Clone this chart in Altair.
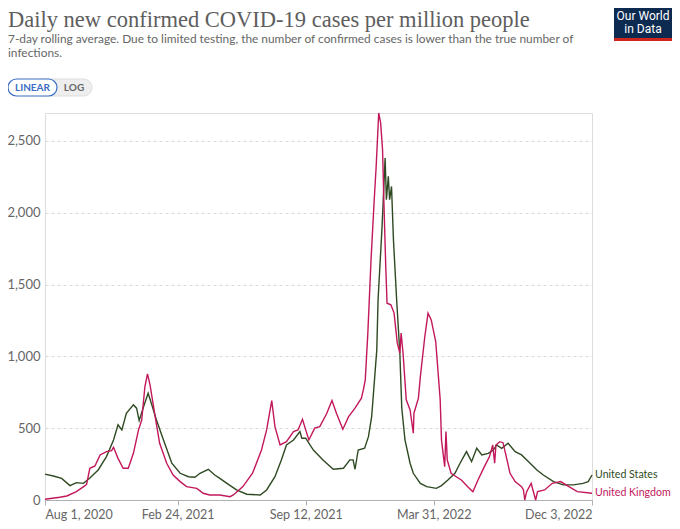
import altair as alt
import pandas as pd

# ---------------- data ----------------
us_dates = [
    "2020-08-01", "2020-08-14", "2020-08-27", "2020-09-09", "2020-09-19", "2020-09-30",
    "2020-10-10", "2020-10-23", "2020-11-05", "2020-11-16", "2020-11-23", "2020-11-29",
    "2020-12-06", "2020-12-17", "2020-12-22", "2020-12-26", "2021-01-02", "2021-01-09",
    "2021-01-14", "2021-01-22", "2021-02-02", "2021-02-15", "2021-02-28", "2021-03-13",
    "2021-03-23", "2021-03-31", "2021-04-13", "2021-04-23", "2021-05-01", "2021-05-12",
    "2021-05-27", "2021-06-12", "2021-07-03", "2021-07-13", "2021-07-26", "2021-08-05",
    "2021-08-13", "2021-08-24", "2021-09-03", "2021-09-06", "2021-09-12", "2021-09-24",
    "2021-10-09", "2021-10-25", "2021-11-10", "2021-11-20", "2021-11-25", "2021-11-28",
    "2021-12-03", "2021-12-13", "2021-12-19", "2021-12-24", "2022-01-01", "2022-01-03",
    "2022-01-09", "2022-01-14", "2022-01-16", "2022-01-19", "2022-01-21", "2022-01-24",
    "2022-01-27", "2022-02-01", "2022-02-06", "2022-02-09", "2022-02-14", "2022-02-22",
    "2022-02-27", "2022-03-10", "2022-03-20", "2022-04-04", "2022-04-12", "2022-04-22",
    "2022-05-03", "2022-05-11", "2022-05-21", "2022-05-29", "2022-06-06", "2022-06-14",
    "2022-06-24", "2022-07-02", "2022-07-07", "2022-07-15", "2022-07-25", "2022-08-05",
    "2022-08-15", "2022-08-26", "2022-09-08", "2022-09-18", "2022-10-04", "2022-10-19",
    "2022-11-04", "2022-11-19", "2022-11-27", "2022-12-03",
]
us_values = [
    180, 167, 150, 100, 121, 116,
    153, 209, 302, 418, 523, 488,
    604, 662, 639, 553, 650, 743,
    674, 557, 418, 256, 186, 162,
    158, 186, 214, 174, 151, 116,
    70, 40, 35, 70, 162, 279,
    383, 418, 476, 430, 430, 348,
    279, 214, 221, 279, 279, 214,
    348, 360, 441, 580, 1045, 1394,
    1882, 2381, 2090, 2253, 2090, 2183,
    1812, 1394, 1022, 640, 418, 256,
    186, 116, 93, 81, 100, 139,
    186, 256, 337, 267, 360, 314,
    325, 348, 383, 360, 395, 337,
    314, 267, 209, 174, 128, 105,
    105, 116, 128, 174,
]

uk_dates = [
    "2020-08-01", "2020-08-24", "2020-09-04", "2020-09-19", "2020-10-02", "2020-10-05",
    "2020-10-10", "2020-10-18", "2020-10-26", "2020-11-05", "2020-11-13", "2020-11-16",
    "2020-11-23", "2020-12-01", "2020-12-09", "2020-12-17", "2020-12-25", "2020-12-30",
    "2021-01-04", "2021-01-08", "2021-01-12", "2021-01-20", "2021-01-27", "2021-02-07",
    "2021-02-17", "2021-02-28", "2021-03-10", "2021-03-26", "2021-04-05", "2021-04-15",
    "2021-05-01", "2021-05-17", "2021-05-22", "2021-06-06", "2021-06-21", "2021-07-05",
    "2021-07-13", "2021-07-21", "2021-07-26", "2021-08-03", "2021-08-13", "2021-08-24",
    "2021-08-31", "2021-09-07", "2021-09-12", "2021-09-17", "2021-09-26", "2021-10-04",
    "2021-10-15", "2021-10-23", "2021-10-30", "2021-11-09", "2021-11-18", "2021-11-28",
    "2021-12-08", "2021-12-11", "2021-12-14", "2021-12-18", "2021-12-23", "2021-12-28",
    "2021-12-31", "2022-01-04", "2022-01-07", "2022-01-10", "2022-01-12", "2022-01-15",
    "2022-01-17", "2022-01-23", "2022-01-28", "2022-02-02", "2022-02-06", "2022-02-08",
    "2022-02-11", "2022-02-16", "2022-02-22", "2022-02-27", "2022-02-28", "2022-03-07",
    "2022-03-10", "2022-03-17", "2022-03-22", "2022-03-27", "2022-04-03", "2022-04-10",
    "2022-04-12", "2022-04-17", "2022-04-19", "2022-04-21", "2022-04-27", "2022-05-05",
    "2022-05-13", "2022-05-23", "2022-05-31", "2022-06-08", "2022-06-18", "2022-06-26",
    "2022-07-01", "2022-07-04", "2022-07-06", "2022-07-12", "2022-07-17", "2022-07-21",
    "2022-07-28", "2022-08-05", "2022-08-15", "2022-08-18", "2022-08-20", "2022-08-23",
    "2022-08-30", "2022-09-06", "2022-09-09", "2022-09-20", "2022-10-02", "2022-10-15",
    "2022-10-28", "2022-11-10", "2022-12-03",
]
uk_values = [
    5, 19, 28, 58, 98, 110,
    221, 237, 314, 337, 344, 367,
    290, 221, 221, 325, 488, 557,
    790, 878, 801, 580, 395, 256,
    174, 128, 93, 81, 47, 35,
    35, 23, 35, 93, 186, 348,
    488, 692, 511, 383, 406, 476,
    488, 562, 488, 418, 500, 511,
    604, 692, 604, 493, 580, 639,
    709, 767, 836, 1160, 1670, 2090,
    2320, 2694, 2625, 2439, 2090, 1626,
    1370, 1359, 1301, 1092, 1022, 1162,
    1022, 697, 627, 465, 604, 709,
    859, 1138, 1301, 1254, 1103, 697,
    418, 232, 476, 279, 186, 162,
    139, 93, 58, 139, 232, 302,
    383, 256, 383, 406, 399, 325,
    186, 128, 93, 70, 0, 58,
    116, 0, 58, 70, 116, 128,
    93, 58, 47,
]

countries = ["United States", "United Kingdom"]
colors = ["#2f4a22", "#c2185b"]
x_ticks = [(2020, 8, 1), (2021, 2, 24), (2021, 9, 12), (2022, 3, 31), (2022, 12, 3)]
y_ticks = [0, 500, 1000, 1500, 2000, 2500]

title = "Daily new confirmed COVID-19 cases per million people"
subtitle = [
    "7-day rolling average. Due to limited testing, the number of confirmed cases is lower than the true number of",
    "infections.",
]

# ---------------- build table ----------------
df = pd.concat([
    pd.DataFrame({"date": us_dates, "value": us_values, "country": countries[0]}),
    pd.DataFrame({"date": uk_dates, "value": uk_values, "country": countries[1]}),
])
last = df.groupby("country", sort=False).tail(1)

W, H = 547, 387
FONT = "Lato"

def dt(t):
    return alt.DateTime(year=t[0], month=t[1], date=t[2], utc=True)

xscale = alt.Scale(type="utc", domain=[dt(x_ticks[0]), dt(x_ticks[-1])])
yscale = alt.Scale(domain=[0, 2694], nice=False)
cscale = alt.Scale(domain=countries, range=colors)

base = alt.Chart(df)

lines = base.mark_line(strokeWidth=1.4, clip=False).encode(
    x=alt.X("date:T", scale=xscale, title=None,
            axis=alt.Axis(values=[dt(t) for t in x_ticks],
                          labelExpr="utcFormat(datum.value, '%b %-d, %Y')",
                          labelFlush=True, grid=False, domainColor="#b0b0b0",
                          tickColor="#b0b0b0", tickSize=5, labelColor="#666666",
                          labelFontSize=12.5, labelFont=FONT, labelPadding=3)),
    y=alt.Y("value:Q", scale=yscale, title=None,
            axis=alt.Axis(values=y_ticks, format=",d", domain=False, ticks=False,
                          gridDash=[3, 3], gridColor="#d9d9d9", labelColor="#666666",
                          labelFontSize=13, labelFont=FONT, labelPadding=5)),
    color=alt.Color("country:N", scale=cscale, legend=None),
    detail="country:N",
)

labels = alt.Chart(last).mark_text(align="left", dx=3, fontSize=10.6, font=FONT,
                                   fontWeight="normal", baseline="middle").encode(
    x=alt.X("date:T", scale=xscale),
    y=alt.Y("value:Q", scale=yscale),
    text="country:N",
    color=alt.Color("country:N", scale=cscale, legend=None),
)

# ---------------- header decorations ----------------
one = pd.DataFrame({"k": [0]})
hdr = alt.Chart(one)

title_t = hdr.mark_text(text=title, align="left", baseline="top", font="Liberation Serif",
                        fontSize=22.5, color="#5e5e5e").encode(x=alt.value(-37), y=alt.value(-104))
sub1 = hdr.mark_text(text=subtitle[0], align="left", baseline="alphabetic", font=FONT,
                     fontSize=11.9, color="#666666").encode(x=alt.value(-37), y=alt.value(-70))
sub2 = hdr.mark_text(text=subtitle[1], align="left", baseline="alphabetic", font=FONT,
                     fontSize=11.9, color="#666666").encode(x=alt.value(-37), y=alt.value(-56))

btn_log = hdr.mark_rect(cornerRadius=9, fill="#eeeeee", stroke="#dddddd").encode(
    x=alt.value(-10), x2=alt.value(47), y=alt.value(-34), y2=alt.value(-17))
btn_lin = hdr.mark_rect(cornerRadius=9, fill="#ffffff", stroke="#3a6cc4", strokeWidth=1.2).encode(
    x=alt.value(-37), x2=alt.value(12), y=alt.value(-34), y2=alt.value(-17))
txt_lin = hdr.mark_text(text="LINEAR", font=FONT, fontSize=10, fontWeight="bold",
                        color="#3a6cc4", baseline="middle").encode(x=alt.value(-12.5), y=alt.value(-25))
txt_log = hdr.mark_text(text="LOG", font=FONT, fontSize=10, fontWeight="bold",
                        color="#666666", baseline="middle").encode(x=alt.value(29), y=alt.value(-25))

logo_box = hdr.mark_rect(fill="#0d2a50").encode(
    x=alt.value(569), x2=alt.value(627), y=alt.value(-108), y2=alt.value(-75))
logo_red = hdr.mark_rect(fill="#ce261e").encode(
    x=alt.value(569), x2=alt.value(627), y=alt.value(-75), y2=alt.value(-72))
logo_t1 = hdr.mark_text(text="Our World", font="Roboto", fontSize=12, color="white",
                        baseline="middle").encode(x=alt.value(598), y=alt.value(-97))
logo_t2 = hdr.mark_text(text="in Data", font="Roboto", fontSize=12, color="white",
                        baseline="middle").encode(x=alt.value(598), y=alt.value(-84))

chart = alt.layer(
    lines, labels, title_t, sub1, sub2, btn_log, btn_lin, txt_lin, txt_log,
    logo_box, logo_red, logo_t1, logo_t2,
).properties(
    width=W, height=H,
    autosize=alt.AutoSizeParams(type="none"),
    padding={"left": 37, "top": 105, "right": 80, "bottom": 21},
).configure_view(strokeWidth=0, stroke="transparent").configure(background="white")

chart.save("out.html", embed_options={"renderer": "svg", "actions": False})
